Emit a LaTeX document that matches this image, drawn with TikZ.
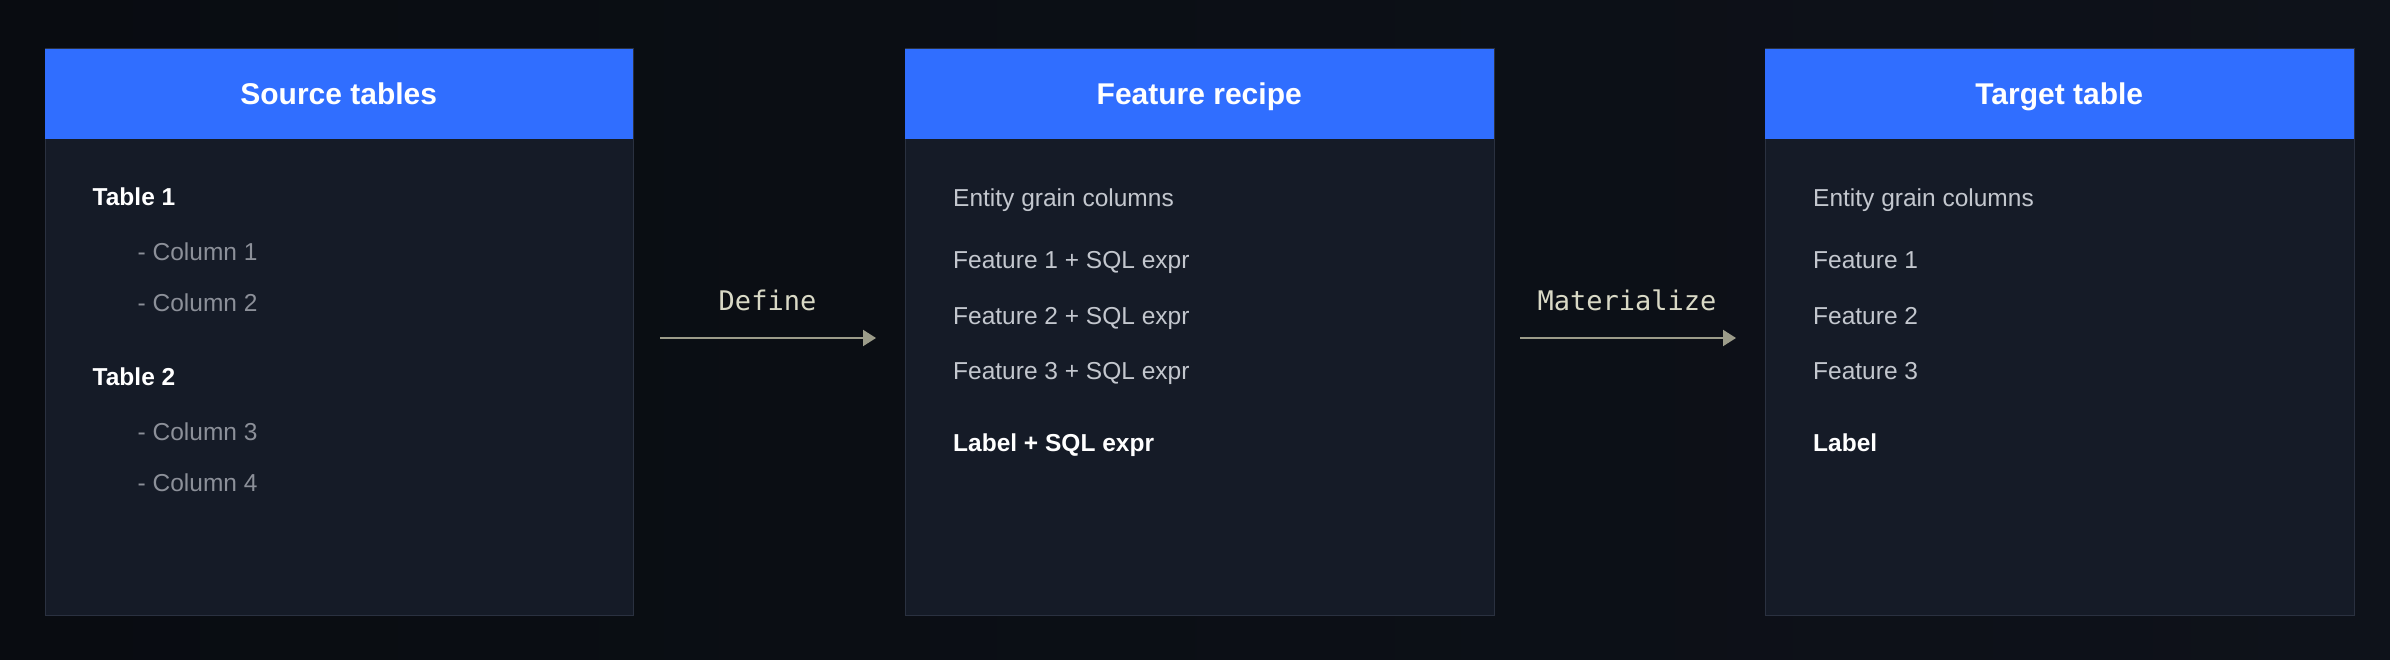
\documentclass[tikz,border=0pt]{standalone}
\usepackage{fontspec}
\setmainfont{Liberation Sans}
\setmonofont{DejaVu Sans Mono}
\usetikzlibrary{arrows.meta}
\definecolor{bgL}{HTML}{090C11}
\definecolor{bgR}{HTML}{0E121A}
\definecolor{boxfill}{HTML}{151B27}
\definecolor{boxline}{HTML}{2A3140}
\definecolor{hdrblue}{HTML}{306EFF}
\definecolor{bodytxt}{HTML}{C3C7CE}
\definecolor{coltxt}{HTML}{8C9099}
\definecolor{arrowcol}{HTML}{9C9C8A}
\definecolor{monotxt}{HTML}{D9D9C6}
\tikzset{
  panel/.style={draw=boxline, line width=1pt, fill=boxfill, minimum width=588.5pt, minimum height=566.5pt, inner sep=0pt, anchor=north west},
  header/.style={fill=hdrblue, minimum width=588.5pt, minimum height=90.5pt, inner sep=0pt, anchor=north west},
  hdrtext/.style={text=white, font=\fontsize{30}{30}\selectfont\bfseries, anchor=base, inner sep=0pt},
  bodyline/.style={text=bodytxt, font=\fontsize{24.5}{24.5}\selectfont, anchor=base west, inner sep=0pt},
  colline/.style={text=coltxt, font=\fontsize{24.5}{24.5}\selectfont, anchor=base west, inner sep=0pt},
  boldline/.style={text=white, font=\fontsize{24.5}{24.5}\selectfont\bfseries, anchor=base west, inner sep=0pt},
  flow/.style={draw=arrowcol, line width=2pt, -{Triangle[length=13pt, width=16pt]}},
  flowlabel/.style={text=monotxt, font=\fontsize{27}{27}\selectfont\ttfamily, anchor=base, inner sep=0pt}
}
\begin{document}
\begin{tikzpicture}[x=1pt, y=-1pt]
\useasboundingbox (0,0) rectangle (2390,660);
\shade[left color=bgL, right color=bgR] (0,0) rectangle (2390,660);

% Panel 1
\node[panel] (p1) at (44.5,48.5) {};
\node[header] (h1) at (44.5,48.5) {};
\node[hdrtext] (t1) at (338.75,105) {Source tables};
\node[boldline] (tab1) at (92.5,206) {Table 1};
\node[colline] (c1) at (137.5,261) {- Column 1};
\node[colline] (c2) at (137.5,312) {- Column 2};
\node[boldline] (tab2) at (92.5,385) {Table 2};
\node[colline] (c3) at (137.5,440) {- Column 3};
\node[colline] (c4) at (137.5,491) {- Column 4};

% Panel 2
\node[panel] (p2) at (905,48.5) {};
\node[header] (h2) at (905,48.5) {};
\node[hdrtext] (t2) at (1199.25,105) {Feature recipe};
\node[bodyline] (e2) at (953,207) {Entity grain columns};
\node[bodyline] (f21) at (953,269) {Feature 1 + SQL expr};
\node[bodyline] (f22) at (953,324) {Feature 2 + SQL expr};
\node[bodyline] (f23) at (953,379) {Feature 3 + SQL expr};
\node[boldline] (l2) at (953,451.5) {Label + SQL expr};

% Panel 3
\node[panel] (p3) at (1765,48.5) {};
\node[header] (h3) at (1765,48.5) {};
\node[hdrtext] (t3) at (2059.25,105) {Target table};
\node[bodyline] (e3) at (1813,207) {Entity grain columns};
\node[bodyline] (f31) at (1813,269) {Feature 1};
\node[bodyline] (f32) at (1813,324) {Feature 2};
\node[bodyline] (f33) at (1813,379) {Feature 3};
\node[boldline] (l3) at (1813,451.5) {Label};

% Arrows
\coordinate (a1s) at (660,338);
\coordinate (a1e) at (876,338);
\coordinate (a2s) at (1520,338);
\coordinate (a2e) at (1736,338);
\draw[flow] (a1s) -- (a1e);
\draw[flow] (a2s) -- (a2e);
\node[flowlabel] (lab1) at (767.5,310) {Define};
\node[flowlabel] (lab2) at (1627,310) {Materialize};
\end{tikzpicture}
\end{document}
